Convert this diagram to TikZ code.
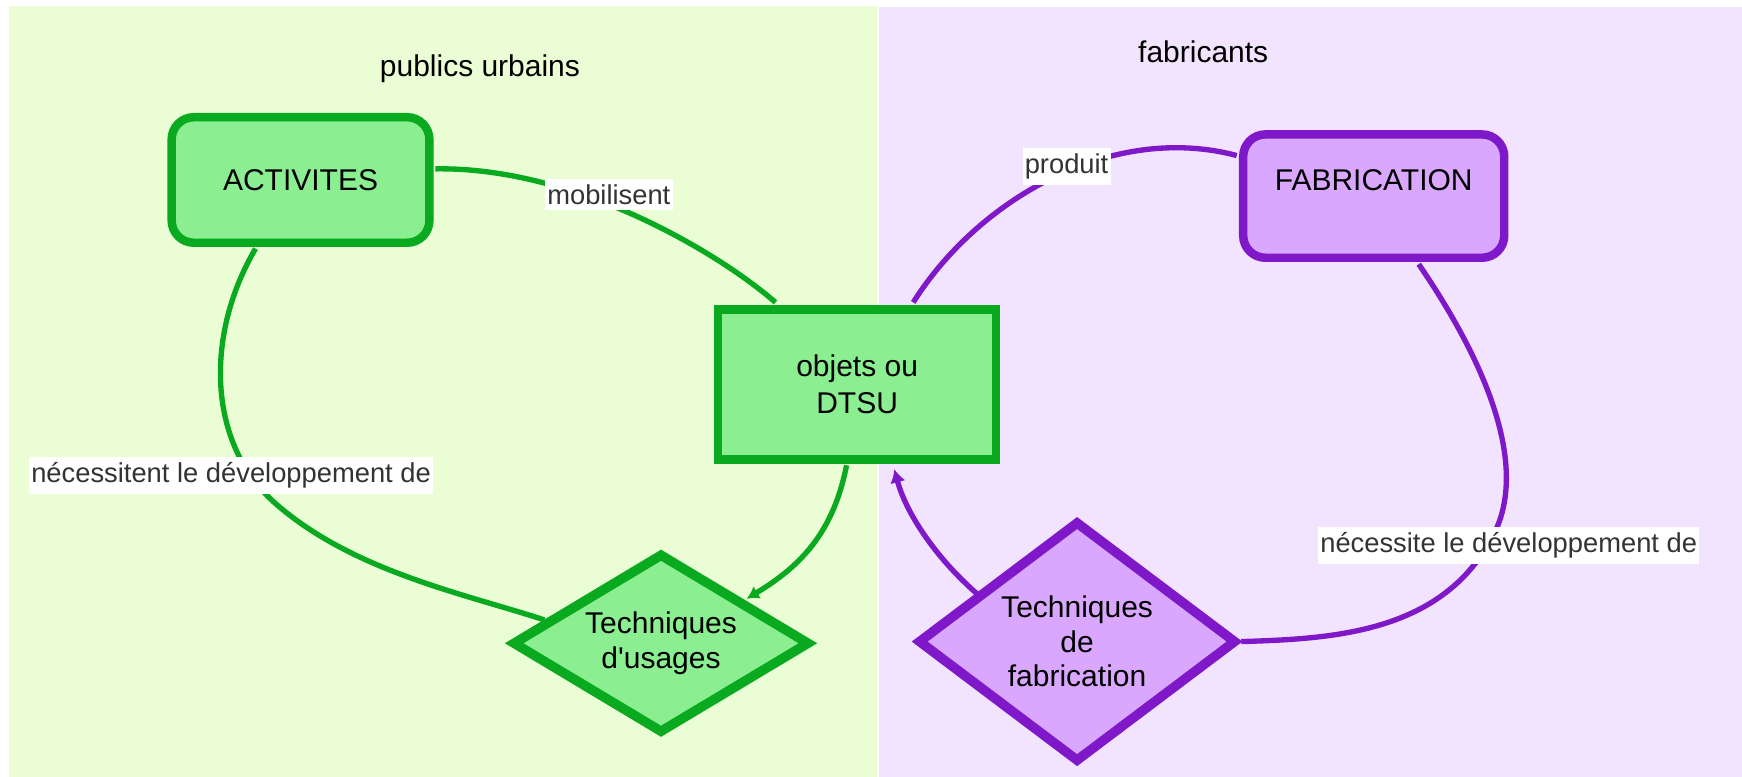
\documentclass[tikz,border=0pt]{standalone}
\usepackage{fontspec}
\setmainfont{Liberation Sans}
\usetikzlibrary{shapes.geometric,arrows.meta,calc}
\definecolor{gstroke}{RGB}{10,170,32}
\definecolor{gfill}{RGB}{139,238,145}
\definecolor{gpanel}{RGB}{235,253,213}
\definecolor{pstroke}{RGB}{126,24,200}
\definecolor{pfill}{RGB}{217,167,254}
\definecolor{ppanel}{RGB}{242,228,254}
\definecolor{labelgrey}{RGB}{51,51,51}
\pgfdeclarelayer{panel}
\pgfdeclarelayer{edges}
\pgfsetlayers{panel,edges,main}
\begin{document}
\begin{tikzpicture}[x=0.5pt,y=-0.5pt,
  nodetext/.style={font=\fontsize{13.5}{17}\selectfont, text=black, align=center},
  gbox/.style={nodetext, draw=gstroke, fill=gfill, line width=3.8pt},
  pbox/.style={nodetext, draw=pstroke, fill=pfill, line width=3.8pt},
  gconn/.style={draw=gstroke, line width=2.4pt},
  pconn/.style={draw=pstroke, line width=2.4pt},
  elabel/.style={fill=white, text=labelgrey, font=\fontsize{12.3}{14}\selectfont, inner xsep=1pt, inner ysep=2.5pt},
  title/.style={font=\fontsize{13.5}{16}\selectfont, text=black}]
\useasboundingbox (0,0) rectangle (1568,699);
\begin{pgfonlayer}{panel}
  \fill[white] (0,0) rectangle (1568,699);
  \fill[gpanel] (8,5.5) rectangle (789.5,699);
  \fill[ppanel] (791,6.5) rectangle (1568,699);
\end{pgfonlayer}

% titles
\node[title] (t1) at (432,62) {publics urbains};
\node[title] (t2) at (1083,47) {fabricants};

% nodes
\node[gbox, rounded corners=10pt, minimum width=116pt, minimum height=56.5pt] (act) at (270.5,162) {ACTIVITES};
\node[pbox, rounded corners=10pt, minimum width=117.5pt, minimum height=55.5pt,
      label={[nodetext, yshift=7.2pt]center:FABRICATION}] (fab) at (1236.5,176.5) {};
\node[gbox, minimum width=125pt, minimum height=67.5pt] (obj) at (771.5,346) {objets ou\\DTSU};
\node[gbox, diamond, aspect=1.65, inner sep=0pt, minimum width=134pt, minimum height=81pt, line width=4.3pt,
      font=\fontsize{13.5}{16}\selectfont] (usg) at (595,579) {Techniques\\d\textquotesingle usages};
\node[pbox, diamond, aspect=1.32, inner sep=0pt, minimum width=143.5pt, minimum height=108.5pt, line width=4.3pt,
      font=\fontsize{13.5}{15.5}\selectfont] (fabd) at (969.5,577.5) {Techniques\\de\\fabrication};

% connectors
\begin{pgfonlayer}{edges}
  \draw[gconn] ($(act.east)+(1.5,-10)$) .. controls (520,150) and (650,230) .. ($(obj.north)+(-73.5,-2.5)$);
  \draw[gconn] ($(act.south)+(-40.5,1.5)$) .. controls (185,300) and (185,400) .. (250,455)
               .. controls (320,515) and (420,535) .. ($(usg.center)+(-105,-21)$);
  \draw[gconn, -{Latex[length=5.5pt,width=6.5pt]}] ($(obj.south)+(-9.5,1.5)$) .. controls (750,480) and (720,510) .. ($(usg.center)+(77,-40)$);
  \draw[pconn] ($(fab.west)+(-2,-36.5)$) .. controls (1000,110) and (880,180) .. ($(obj.north)+(50.5,-2.5)$);
  \draw[pconn] ($(fab.south)+(40.5,2)$) .. controls (1340,330) and (1375,420) .. (1345,480)
               .. controls (1300,570) and (1200,575) .. (fabd.east);
  \draw[pconn, -{Latex[length=6pt,width=7pt]}] ($(fabd.center)+(-89.5,-42.5)$) .. controls (840,500) and (815,460) .. ($(obj.south)+(33.5,5)$);
\end{pgfonlayer}

% edge labels
\node[elabel] (l1) at (548,175) {mobilisent};
\node[elabel] (l2) at (208,428) {nécessitent le développement de};
\node[elabel] (l3) at (960,150) {produit};
\node[elabel] (l4) at (1358,491) {nécessite le développement de};
\end{tikzpicture}
\end{document}
